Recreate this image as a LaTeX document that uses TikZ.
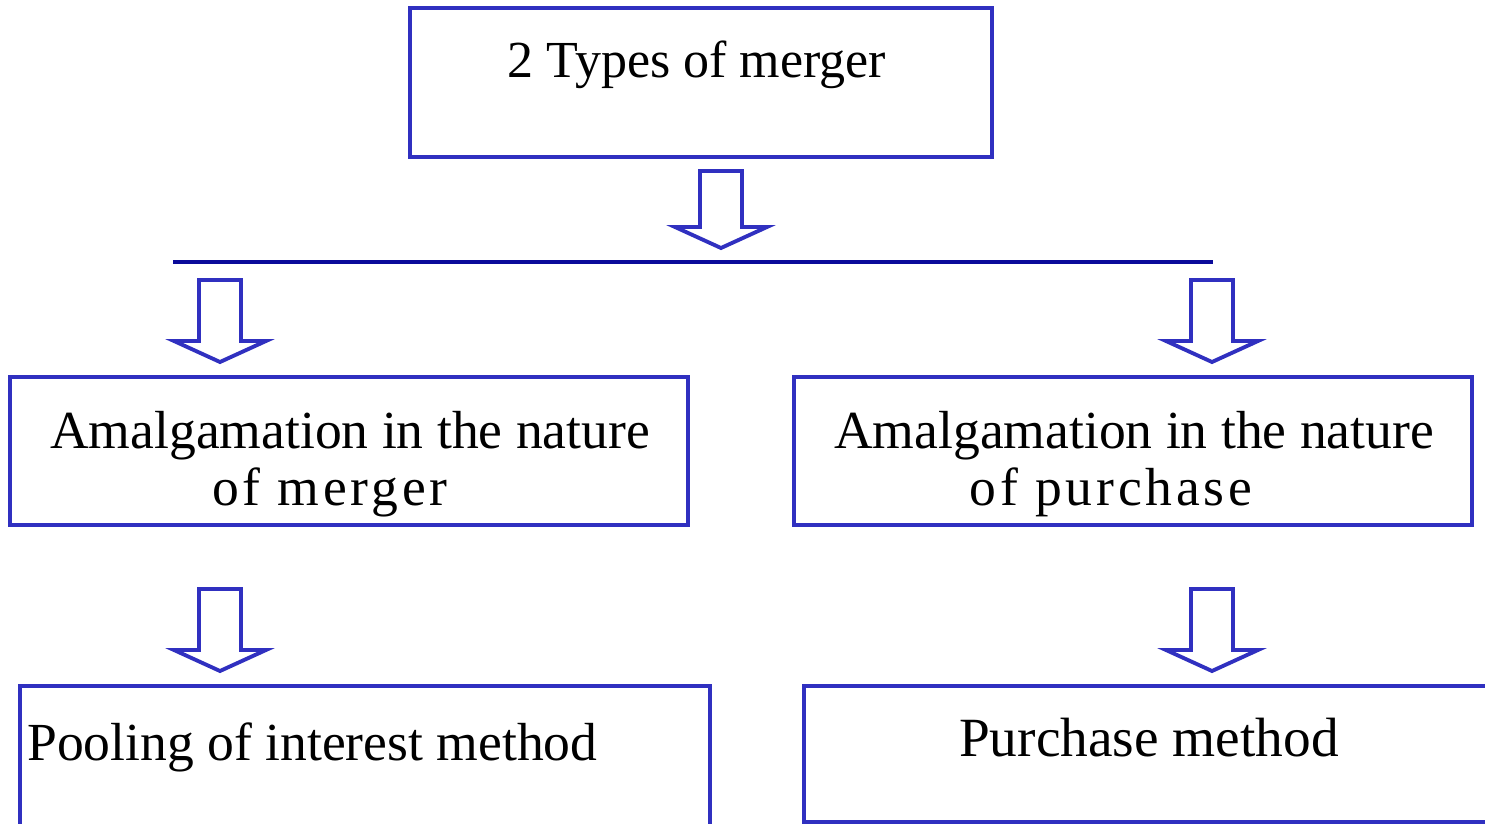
\documentclass[tikz,border=0pt]{standalone}
\usepackage{fontspec}
\setmainfont{Liberation Serif}
\usetikzlibrary{positioning,calc}
\definecolor{boxBlue}{HTML}{3030C0}
\definecolor{barBlue}{HTML}{0A0A9A}
\newcommand\px{0.02cm}
\tikzset{
  mbox/.style={draw=boxBlue, line width=2.6pt, fill=white, inner sep=0pt},
  mtext/.style={font=\fontsize{30.5}{36}\selectfont, inner sep=0pt, anchor=base},
  wide/.style={font=\fontsize{30.5}{36}\selectfont\addfontfeatures{LetterSpace=7}},
  bar/.style={draw=barBlue, line width=2.3pt},
  downarr/.pic={
    \draw[draw=boxBlue, line width=2.2pt, fill=white, line join=miter]
      (-21,0) -- (21,0) -- (21,#1-21) -- (46,#1-21) -- (0,#1)
      -- (-46,#1-21) -- (-21,#1-21) -- cycle;
  },
}
\begin{document}
\begin{tikzpicture}[x=\px, y=-\px]
  \useasboundingbox (0,0) rectangle (1485,824);
  \clip (0,0) rectangle (1485,824);
  % boxes
  \node[mbox, minimum width=582*\px, minimum height=149*\px] (top) at (701,82.5) {};
  \node[mbox, minimum width=678*\px, minimum height=148*\px] (mergeBox) at (349,451) {};
  \node[mbox, minimum width=678*\px, minimum height=148*\px] (purchBox) at (1133,451) {};
  \node[mbox, minimum width=690*\px, minimum height=200*\px] (poolBox) at (365,786) {};
  \node[mbox, minimum width=700*\px, minimum height=136*\px] (pmBox) at (1154,754) {};
  % texts
  \node[mtext, font=\fontsize{29.6}{36}\selectfont] (topT) at (697,78) {2 Types of merger};
  \node[mtext] (mergeA) at (350,448) {Amalgamation in the nature};
  \node[mtext, wide] (mergeB) at (330,505) {of merger};
  \node[mtext] (purchA) at (1134,448) {Amalgamation in the nature};
  \node[mtext, wide] (purchB) at (1111,505) {of purchase};
  \node[mtext, anchor=base west] (poolT) at (27,760) {Pooling of interest method};
  \node[mtext, font=\fontsize{31.5}{36}\selectfont] (pmT) at (1149,756) {Purchase method};
  % splitter
  \coordinate (barL) at (173,262);
  \coordinate (barR) at (1213,262);
  \draw[bar] (barL) -- (barR);
  % arrows
  \pic at (721,171) {downarr=77};
  \pic at (220,280) {downarr=82};
  \pic at (1212,280) {downarr=82};
  \pic at (220,589) {downarr=82};
  \pic at (1212,589) {downarr=82};
\end{tikzpicture}
\end{document}
